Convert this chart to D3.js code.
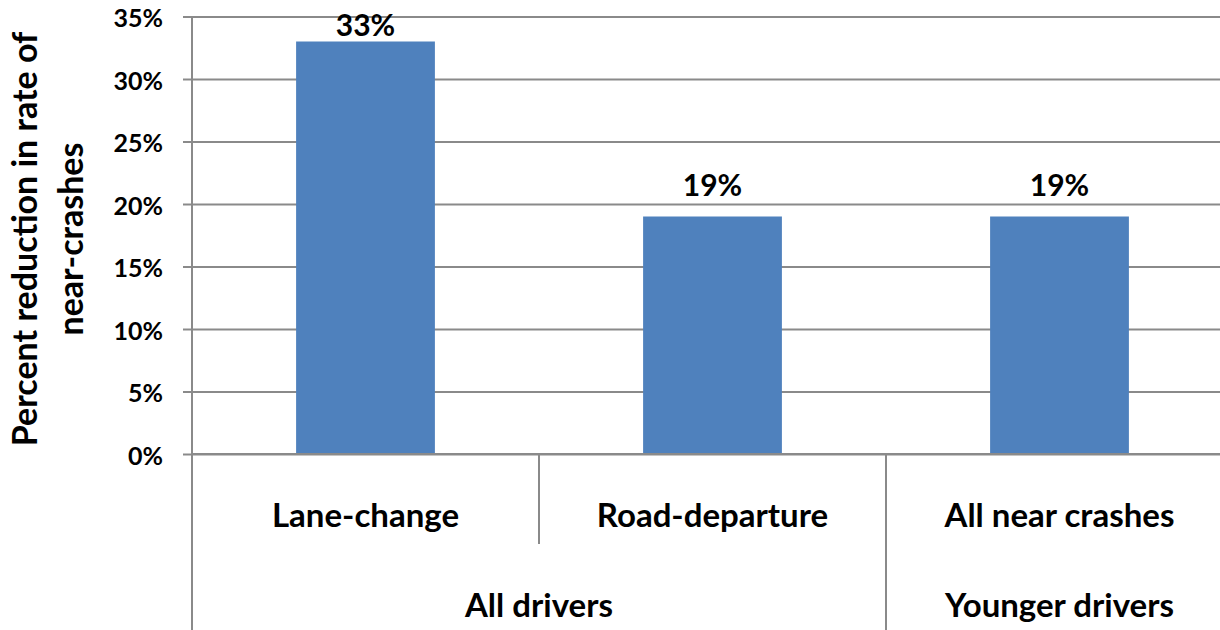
<!DOCTYPE html>
<html>
<head>
<meta charset="utf-8">
<script src="https://cdn.jsdelivr.net/npm/d3@7"></script>
<style>
  html, body { margin: 0; padding: 0; background: #fff; }
  svg { display: block; font-family: Lato, "Open Sans", sans-serif; font-weight: bold; }
</style>
</head>
<body>
<svg id="chart" width="1220" height="630"></svg>
<script>
// Near-crash reduction by event type and driver group
const categories = ["Lane-change", "Road-departure", "All near crashes"];
const groups = ["All drivers", "All drivers", "Younger drivers"];
const values = [0.33, 0.19, 0.19];
const yTicks = [0, 0.05, 0.10, 0.15, 0.20, 0.25, 0.30, 0.35];
const yTitle = ["Percent reduction in rate of", "near-crashes"];

const svg = d3.select("#chart");
const plotLeft = 192, plotRight = 1233, plotTop = 16.5, plotBottom = 454;
const gray = "#8a8a8a";

const x = d3.scaleBand().domain(categories).range([plotLeft, plotRight])
  .paddingInner(0.6).paddingOuter(0.3);
const y = d3.scaleLinear().domain([0, 0.35]).range([plotBottom, plotTop]);
const step = x.step();
const gap = (step - x.bandwidth()) / 2;

// horizontal gridlines
const grid = svg.append("g").attr("transform", `translate(${plotLeft},0)`)
  .call(d3.axisLeft(y).tickValues(yTicks).tickSize(-(plotRight - plotLeft)).tickFormat(""));
grid.select(".domain").remove();
grid.selectAll(".tick line").attr("stroke", gray).attr("stroke-width", 2);

// bars
svg.append("g").selectAll("rect").data(values).join("rect")
  .attr("x", (d, i) => x(categories[i]))
  .attr("y", d => y(d))
  .attr("width", x.bandwidth())
  .attr("height", d => y(0) - y(d))
  .attr("fill", "#4f81bd");

// y axis with tick labels
const yAxis = svg.append("g").attr("transform", `translate(${plotLeft},0)`)
  .call(d3.axisLeft(y).tickValues(yTicks).tickSize(9).tickPadding(20)
    .tickFormat(d3.format(".0%")));
yAxis.select(".domain").remove();
yAxis.selectAll(".tick line").attr("stroke", gray).attr("stroke-width", 2);
yAxis.selectAll(".tick text").attr("font-size", 25).attr("font-family", "Lato")
  .attr("font-weight", "bold").attr("fill", "#000").attr("dy", "0.4em");

// y axis line, running down through the category label rows
svg.append("line").attr("x1", plotLeft).attr("x2", plotLeft).attr("y1", plotTop).attr("y2", 630)
  .attr("stroke", gray).attr("stroke-width", 2);

// x baseline
svg.append("line").attr("x1", plotLeft).attr("x2", plotRight).attr("y1", y(0)).attr("y2", y(0))
  .attr("stroke", gray).attr("stroke-width", 2);

// separators between categories; group breaks run to the bottom
categories.forEach((c, i) => {
  if (i === 0) return;
  const bx = x(c) - gap;
  const groupBreak = groups[i] !== groups[i - 1];
  svg.append("line").attr("x1", bx).attr("x2", bx)
    .attr("y1", y(0)).attr("y2", groupBreak ? 630 : 544)
    .attr("stroke", gray).attr("stroke-width", 2);
});

// value labels, kept inside the plot area at the top
svg.append("g").selectAll("text").data(values).join("text")
  .attr("x", (d, i) => x(categories[i]) + x.bandwidth() / 2)
  .attr("y", d => Math.max(y(d) - 21, plotTop + 19))
  .attr("text-anchor", "middle")
  .attr("font-size", 30)
  .attr("fill", "#000")
  .text(d => d3.format(".0%")(d));

// category labels
svg.append("g").selectAll("text").data(categories).join("text")
  .attr("x", d => x(d) + x.bandwidth() / 2)
  .attr("y", 527)
  .attr("text-anchor", "middle")
  .attr("font-size", 33)
  .attr("fill", "#000")
  .text(d => d);

// group labels, centred over their span of categories
const groupNames = Array.from(new Set(groups));
groupNames.forEach(g => {
  const idx = groups.map((v, i) => v === g ? i : -1).filter(i => i >= 0);
  const x0 = x(categories[idx[0]]) - gap;
  const x1 = x(categories[idx[idx.length - 1]]) + x.bandwidth() + gap;
  svg.append("text")
    .attr("x", (x0 + x1) / 2)
    .attr("y", 617)
    .attr("text-anchor", "middle")
    .attr("font-size", 33)
    .attr("fill", "#000")
    .text(g);
});

// y axis title, two lines
const title = svg.append("text")
  .attr("transform", `translate(0,239) rotate(-90)`)
  .attr("text-anchor", "middle")
  .attr("font-size", 34)
  .attr("fill", "#000");
yTitle.forEach((t, i) => {
  title.append("tspan").attr("x", 0).attr("y", 37 + i * 46).text(t);
});
</script>
</body>
</html>
